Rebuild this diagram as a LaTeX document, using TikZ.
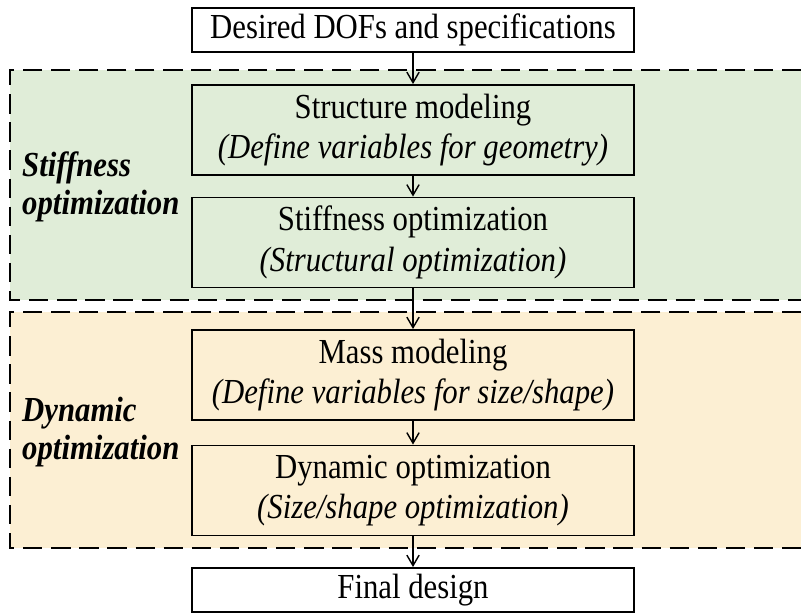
\documentclass[tikz,border=0pt]{standalone}
\usepackage{fontspec}
\setmainfont[FakeStretch=0.875]{Liberation Serif}
\usetikzlibrary{arrows.meta,positioning}
\definecolor{stiffgreen}{RGB}{224,237,216}
\definecolor{dyncream}{RGB}{252,239,211}

\begin{document}
\begin{tikzpicture}[x=0.02cm, y=-0.02cm,
    box/.style={rectangle, draw, line width=1.1pt, minimum width=8.84cm, align=center, font=\fontsize{20}{23}\selectfont},
    stagebox/.style={box, minimum height=1.8cm},
    endbox/.style={box, fill=white, minimum height=0.88cm},
    region/.style={dash pattern=on 11pt off 5pt, line width=1.1pt},
    phase/.style={anchor=west, align=left, font=\fontsize{20}{21.5}\selectfont\bfseries\itshape},
    arrow/.style={-{Straight Barb[length=6pt, width=7pt]}, line width=0.8pt}
]
\useasboundingbox (0,0) rectangle (801,615);

% Dashed regions
\fill[stiffgreen] (10,70) rectangle (801,300);
\draw[region] (801,70) -- (10,70) -- (10,300) -- (801,300);
\fill[dyncream] (10,312) rectangle (801,548);
\draw[region] (801,312) -- (10,312) -- (10,548) -- (801,548);

% Phase labels
\node[phase] (stiffLabel) at (16,187) {Stiffness\\optimization};
\node[phase] (dynLabel) at (16,432) {Dynamic\\optimization};

% Flow boxes
\node[endbox] (specs) at (413,30) {Desired DOFs and specifications};
\node[stagebox] (structModel) at (413,130) {Structure modeling\\\textit{(Define variables for geometry)}};
\node[stagebox] (stiffOpt) at (413,242.5) {Stiffness optimization\\\textit{(Structural optimization)}};
\node[stagebox] (massModel) at (413,375) {Mass modeling\\\textit{(Define variables for size/shape)}};
\node[stagebox] (dynOpt) at (413,490.5) {Dynamic optimization\\\textit{(Size/shape optimization)}};
\node[endbox] (final) at (413,590) {Final design};

% Flow
\draw[arrow] (specs) -- (structModel);
\draw[arrow] (structModel) -- (stiffOpt);
\draw[arrow] (stiffOpt) -- (massModel);
\draw[arrow] (massModel) -- (dynOpt);
\draw[arrow] (dynOpt) -- (final);

\end{tikzpicture}
\end{document}
